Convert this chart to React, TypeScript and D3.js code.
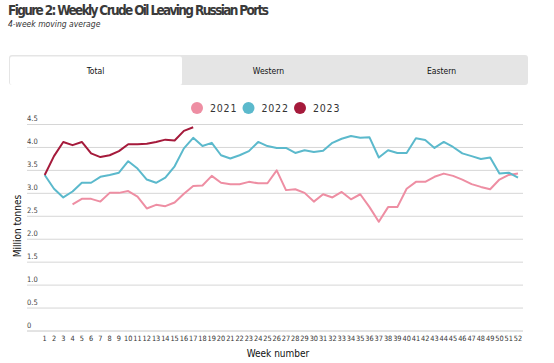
import React from 'react';
import * as d3 from 'd3';

// 4-week moving average, million tonnes per week
const weeks = d3.range(1, 53);
const y2021 = [
  null, null, null, 2.76, 2.88, 2.88, 2.82, 3.01, 3.01, 3.05, 2.93, 2.67, 2.75, 2.72, 2.8, 2.99,
  3.16, 3.17, 3.38, 3.23, 3.2, 3.2, 3.25, 3.22, 3.22, 3.5, 3.07, 3.09, 3.01, 2.82, 2.98, 2.91,
  3.03, 2.87, 2.98, 2.7, 2.38, 2.7, 2.7, 3.1, 3.25, 3.25, 3.36, 3.43, 3.38, 3.3, 3.2, 3.14,
  3.09, 3.3, 3.4, 3.43
];
const y2022 = [
  3.4, 3.1, 2.91, 3.04, 3.23, 3.23, 3.36, 3.4, 3.45, 3.7, 3.54, 3.3, 3.23, 3.34, 3.59, 3.98,
  4.21, 4.03, 4.1, 3.83, 3.76, 3.83, 3.92, 4.12, 4.03, 3.99, 3.99, 3.88, 3.94, 3.9, 3.93, 4.1,
  4.19, 4.25, 4.21, 4.22, 3.78, 3.94, 3.88, 3.88, 4.2, 4.16, 3.99, 4.12, 4.01, 3.87, 3.81, 3.75,
  3.78, 3.43, 3.45, 3.34
];
const y2023 = [
  3.4, 3.81, 4.12, 4.05, 4.12, 3.87, 3.79, 3.83, 3.92, 4.07, 4.07, 4.08, 4.12, 4.17, 4.15, 4.36,
  4.44
];
const yTicks = [0, 0.5, 1, 1.5, 2, 2.5, 3, 3.5, 4, 4.5];
const tabs = ['Total', 'Western', 'Eastern'];

const series = [
  { name: '2021', values: y2021, color: '#ee8ea3' },
  { name: '2022', values: y2022, color: '#5bb9cc' },
  { name: '2023', values: y2023, color: '#a51a3b' }
];

const FONT = '"Liberation Sans Narrow", "DejaVu Sans Condensed", "Liberation Sans", sans-serif';

export default function App() {
  const W = 554;
  const H = 363;

  const x = d3.scalePoint<number>().domain(weeks).range([44.7, 518]);
  const y = d3.scaleLinear().domain([0, 4.5]).range([331, 124.5]);

  const line = d3
    .line<number | null>()
    .defined(d => d != null)
    .x((d, i) => x(weeks[i]) || 0)
    .y(d => y(d as number));

  const tabX = d3.scaleBand<string>().domain(tabs).range([9, 528]);

  return (
    <svg
      width={W}
      height={H}
      style={{ position: 'absolute', left: 0, top: 0, background: '#fff' }}
      fontFamily={FONT}
    >
      {/* 标题 */}
      <text x={8} y={15} fontSize={13.5} fontWeight="bold" fill="#3a3a3a" textLength={261}>
        Figure 2: Weekly Crude Oil Leaving Russian Ports
      </text>
      <text x={8} y={27} fontSize={8.5} fontStyle="italic" fill="#333">
        4-week moving average
      </text>

      {/* tabs */}
      <rect x={9} y={55} width={519} height={30} rx={3} fill="#e5e5e5" />
      {tabs.map((t, i) => (
        <g key={t}>
          {i === 0 && (
            <rect x={tabX(t)! + 1} y={56.5} width={tabX.bandwidth() - 1} height={28.5} rx={2} fill="#fff" />
          )}
          <text
            x={tabX(t)! + tabX.bandwidth() / 2}
            y={74}
            fontSize={8.5}
            fontWeight={500}
            textAnchor="middle"
            fill="#111"
          >
            {t}
          </text>
        </g>
      ))}

      {/* legend */}
      {series.map((s, i) => {
        const lx = 197 + i * 51.5;
        return (
          <g key={s.name}>
            <circle cx={lx} cy={108} r={6} fill={s.color} />
            <text x={lx + 13} y={112} fontSize={10.5} fill="#333" letterSpacing={0.8}>
              {s.name}
            </text>
          </g>
        );
      })}

      {/* y grid */}
      {yTicks.map(t => (
        <g key={t}>
          <line x1={27} x2={523} y1={y(t)} y2={y(t)} stroke={t === 0 ? '#c8c8c8' : '#d6d6d6'} strokeWidth={1} />
          <text x={27} y={y(t) - 3.5} fontSize={7.5} fill="#444">
            {t === 0 ? '0' : t.toFixed(1)}
          </text>
        </g>
      ))}

      {/* x ticks */}
      {weeks.map(w => (
        <text key={w} x={x(w)} y={341} fontSize={7.3} textAnchor="middle" fill="#333">
          {w}
        </text>
      ))}

      <text x={278} y={357} fontSize={10} textAnchor="middle" fill="#111">
        Week number
      </text>
      <text
        transform="translate(21,226) rotate(-90)"
        fontSize={10}
        textAnchor="middle"
        fill="#111"
      >
        Million tonnes
      </text>

      {/* 折线 */}
      {series.map(s => (
        <path
          key={s.name}
          d={line(s.values) || ''}
          fill="none"
          stroke={s.color}
          strokeWidth={2}
          strokeLinejoin="round"
        />
      ))}
    </svg>
  );
}
